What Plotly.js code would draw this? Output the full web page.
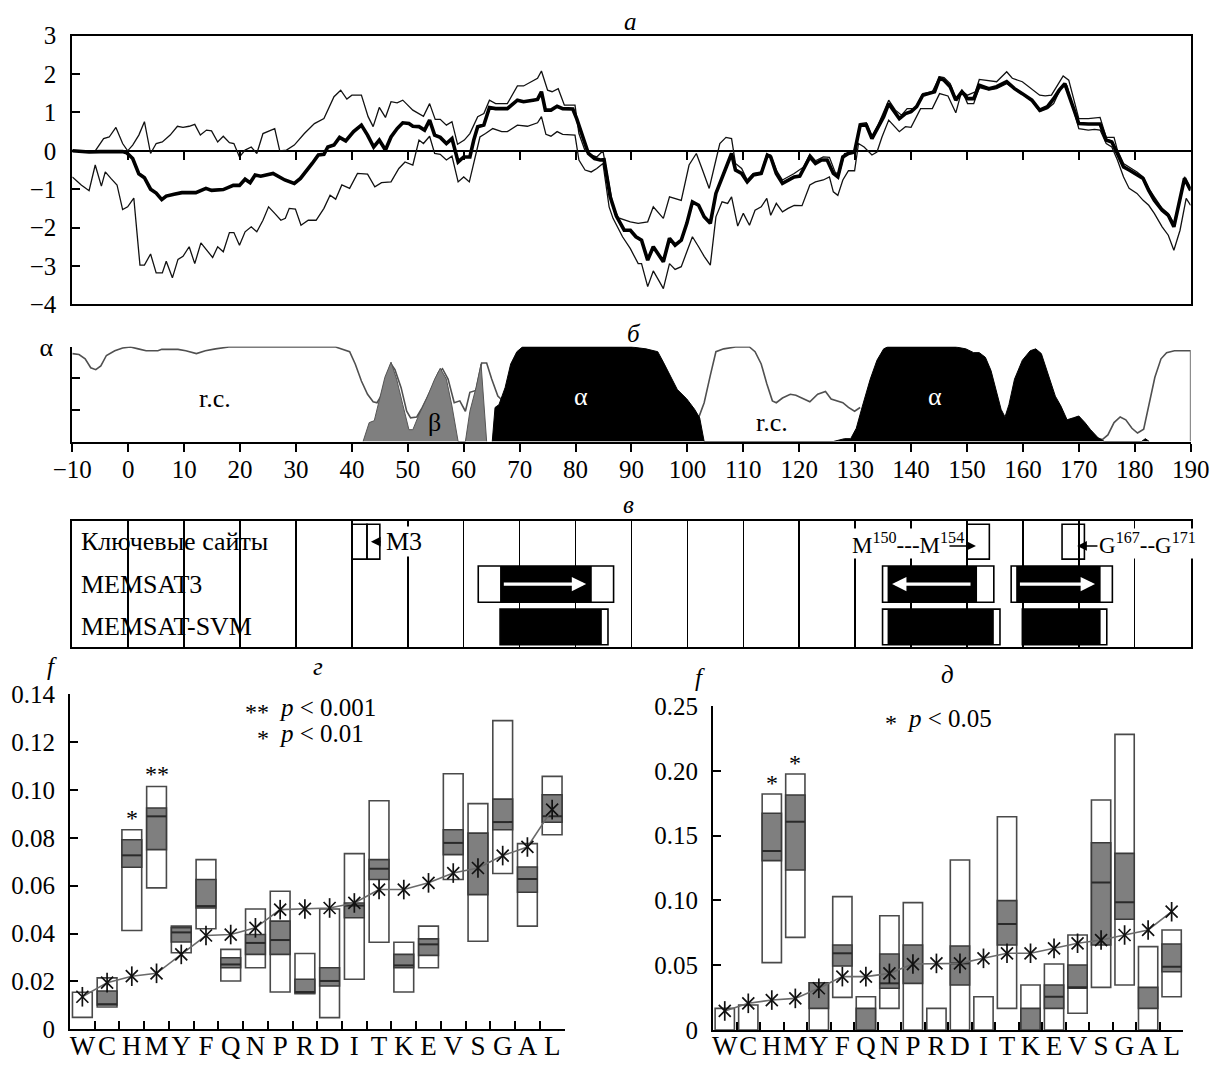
<!DOCTYPE html>
<html><head><meta charset="utf-8">
<script src="https://cdn.plot.ly/plotly-3.0.1.min.js"></script>
<style>body{margin:0;background:#fff}#chart{width:1211px;height:1066px}</style>
</head><body><div id="chart"></div>
<script>
// ---------- panel а : profiles (residue, value) ----------
const meanProfile = [[-10,0],[-7,-0.03],[-5,-0.02],[-3,-0.02],[-1,-0.02],[-0.3,-0.05],[0.8,-0.2],[1.9,-0.6],[2.9,-0.7],[4,-1.0],
[5,-1.1],[6,-1.27],[6.8,-1.18],[8.2,-1.13],[9.6,-1.09],[12.1,-1.09],[13.9,-0.98],[14.9,-1.03],[17,-1.01],[18.8,-0.9],
[19.9,-0.9],[20.9,-0.74],[21.8,-0.83],[22.7,-0.63],[23.7,-0.66],[25.9,-0.59],[28,-0.76],[29.7,-0.85],[30.8,-0.72],[32.9,-0.33],
[34,-0.11],[35,-0.09],[35.7,0.1],[36.8,0.15],[37.8,0.35],[38.9,0.26],[40.3,0.5],[41.7,0.67],[42.8,0.41],[43.9,0.1],
[44.9,0.28],[46,0.02],[47,0.36],[48.1,0.58],[49.1,0.73],[50.2,0.71],[50.9,0.64],[52,0.63],[53,0.54],[53.9,0.8],
[54.8,0.41],[55.8,0.35],[56.9,0.19],[57.9,0.32],[59,-0.29],[60,-0.16],[61.1,-0.16],[61.8,0.28],[62.5,0.63],[63.6,0.67],
[64.6,1.13],[65.7,1.1],[67.8,1.1],[69.6,1.32],[70.7,1.28],[72.4,1.32],[73.2,1.34],[73.9,1.54],[74.6,1.06],[75.6,1.06],
[76.7,1.16],[77.7,1.1],[79.5,1.09],[80.2,0.84],[81.3,0.36],[82.3,-0.07],[83.4,-0.2],[84.4,-0.24],[85.1,-0.23],[86.2,-1.2],
[87.3,-1.7],[88.7,-2.07],[89.8,-2.07],[90.8,-2.24],[91.8,-2.33],[92.9,-2.85],[93.9,-2.5],[95,-2.76],[95.7,-2.89],[96.8,-2.28],
[97.8,-2.46],[98.9,-2.33],[99.9,-1.89],[100.9,-1.33],[102,-1.42],[103,-1.72],[104.1,-1.89],[105.1,-1.11],[106.2,-0.72],[107.2,-0.37],
[107.9,-0.07],[108.6,-0.5],[109.7,-0.59],[110.7,-0.81],[111.8,-0.63],[113.2,-0.59],[114.3,-0.11],[114.9,-0.16],[115.9,-0.59],[117,-0.85],
[118,-0.76],[119.1,-0.68],[120.1,-0.66],[120.8,-0.46],[121.9,-0.16],[122.9,-0.33],[124,-0.24],[125,-0.24],[126.1,-0.59],[126.9,-0.68],
[127.8,-0.16],[128.8,-0.07],[129.9,-0.03],[130.9,0.67],[132,0.67],[133,0.32],[134.1,0.63],[135.1,0.89],[136,1.23],[136.9,1.06],
[137.9,0.84],[139,0.97],[140,1.02],[141,1.15],[142.1,1.45],[143.1,1.49],[144.2,1.54],[145.1,1.89],[145.9,1.84],[147,1.67],
[148,1.32],[149.1,1.54],[150.1,1.36],[151.2,1.36],[152.2,1.71],[153.9,1.62],[155.3,1.67],[157.1,1.8],[158.5,1.62],[159.9,1.49],
[161.6,1.32],[163,1.06],[164.4,1.15],[165.5,1.36],[166.5,1.58],[167.5,1.75],[168.6,1.32],[170,0.71],[171.7,0.7],[173.8,0.7],
[174.9,0.28],[175.9,0.23],[176.9,-0.07],[178,-0.42],[179,-0.5],[180.4,-0.63],[181.5,-0.72],[182.5,-1.03],[183.5,-1.29],[184.9,-1.55],
[186,-1.68],[187,-1.98],[188.1,-1.29],[188.9,-0.72],[190,-1.03]];

const upperProfile = [[-10,0],[-7,-0.02],[-5.9,0],[-4.4,0.32],[-3.4,0.36],[-2.2,0.61],[-1,0.19],[-0.1,0],[0.8,0.15],[1.9,0.41],
[2.9,0.76],[4,-0.07],[5,0.19],[6.1,0.23],[7.5,0.41],[8.8,0.64],[9.8,0.61],[10.9,0.64],[11.9,0.69],[12.9,0.41],
[14,0.54],[14.9,0.52],[16,0.23],[17,0.38],[18.1,0.21],[18.9,0.19],[19.9,-0.16],[20.9,0.02],[22,0.1],[23,-0.07],
[24.1,0.45],[25.5,0.54],[26.2,0.58],[27.1,0],[28.3,0.02],[29.7,0.15],[31.5,0.45],[33.3,0.71],[35,0.84],[36.8,1.41],
[38,1.58],[39.1,1.35],[40,1.45],[41.7,1.45],[42.9,0.89],[43.8,0.63],[44.9,1.13],[46,0.87],[47,1.28],[48.1,1.25],
[49.1,1.32],[50.9,1.06],[52.8,0.9],[53.9,1.23],[54.9,0.82],[55.8,0.82],[56.9,0.67],[57.9,0.76],[58.9,0.17],[60.1,0.28],
[61.1,0.45],[62.5,0.89],[63.6,0.97],[64.6,1.32],[65.7,1.23],[67.8,1.23],[69.6,1.69],[70.7,1.69],[72.4,1.84],[73.2,1.89],
[73.9,2.08],[75,1.58],[75.8,1.54],[76.9,1.62],[78,1.19],[79.9,1.19],[80.6,0.45],[81.7,0],[82.8,-0.11],[83.8,-0.16],
[84.9,0],[86,-0.94],[86.7,-1.45],[87.7,-1.75],[89.8,-1.85],[91.2,-1.89],[92.9,-1.85],[93.9,-1.46],[95.7,-1.76],[96.8,-1.2],
[98.9,-1.29],[100.3,-0.37],[101.6,-0.07],[102.7,-0.5],[103.9,-0.98],[105.1,-0.24],[105.8,0.19],[106.9,0.35],[107.9,0.32],[108.6,-0.33],
[109.7,-0.46],[110.7,-0.76],[111.8,-0.59],[113.2,-0.55],[114.2,-0.09],[114.9,-0.11],[115.9,-0.5],[117,-0.76],[118,-0.68],[119.1,-0.59],
[120.8,-0.42],[121.9,-0.09],[122.9,-0.26],[124.3,-0.16],[125.4,-0.17],[126.4,-0.55],[127.1,-0.63],[128.1,-0.07],[129.2,-0.05],[129.9,0.02],
[130.9,0.71],[132,0.73],[133,0.38],[134.1,0.67],[136,1.32],[137.2,1.06],[138.3,0.93],[139.3,1.1],[140.7,1.1],[142.1,1.49],
[143.8,1.54],[145.1,1.93],[145.9,1.91],[147,1.75],[148,1.36],[149.1,1.56],[150.1,1.45],[151.5,1.54],[152.2,1.86],[153.6,1.84],
[155.3,1.8],[157.1,2.06],[158.1,1.89],[159.9,1.8],[161.6,1.62],[163,1.45],[164,1.43],[165.1,1.45],[166.2,1.71],[167.2,1.95],
[168.2,1.84],[170,0.84],[171.7,0.84],[173.8,0.87],[174.9,0.35],[176.3,0.35],[176.9,0.02],[178,-0.33],[179.4,-0.46],[180.4,-0.55],
[181.5,-0.68],[182.5,-0.98],[183.5,-1.2],[184.9,-1.5],[186,-1.63],[187,-1.89],[188.1,-1.24],[188.9,-0.68],[190,-0.98]];

const lowerProfile = [[-10,-0.68],[-8.4,-0.89],[-7,-1.04],[-5.9,-0.37],[-4.8,-0.92],[-4.1,-0.55],[-3.1,-0.72],[-2,-0.89],[-1,-1.53],[-0.1,-1.46],
[1,-1.23],[2.1,-2.98],[2.9,-2.98],[4,-2.69],[5,-3.18],[6.1,-3.18],[6.8,-2.88],[7.9,-3.31],[8.9,-2.83],[9.8,-2.75],
[10.9,-2.5],[11.9,-2.94],[13,-2.4],[14,-2.59],[15.1,-2.78],[16,-2.5],[17,-2.63],[18.1,-2.13],[18.9,-2.13],[19.9,-2.46],
[20.9,-2.11],[22,-1.98],[23,-2.11],[24.1,-1.81],[25.1,-1.46],[26.2,-1.63],[27.3,-1.81],[28.1,-1.76],[28.8,-1.5],[29.9,-1.52],
[30.9,-1.94],[32.2,-1.81],[33.6,-1.81],[35,-1.5],[36.1,-1.16],[37.1,-1.26],[38.2,-0.89],[39.6,-0.98],[41,-0.59],[42.8,-0.61],
[44.1,-0.94],[45.3,-0.83],[47,-0.81],[48.4,-0.46],[49.5,-0.29],[50.9,-0.37],[52,0.28],[52.8,0.19],[53.9,0.38],[54.8,-0.07],
[55.8,-0.09],[56.9,-0.24],[57.9,-0.14],[59,-0.81],[60,-0.68],[61,-0.81],[61.8,-0.33],[62.9,0.36],[63.9,0.45],[65.2,0.58],
[66.8,0.5],[67.8,0.5],[69.6,0.67],[71.4,0.64],[73.2,0.73],[73.9,0.89],[74.7,0.43],[75.6,0.38],[76.7,0.5],[77.7,0.43],
[79.9,0.41],[80.6,-0.24],[81.7,-0.5],[82.8,-0.55],[83.8,-0.46],[84.9,-0.33],[86,-1.46],[86.7,-1.76],[88.4,-2.24],[89.8,-2.55],
[91.2,-2.94],[91.8,-2.94],[92.9,-3.54],[93.9,-3.13],[95,-3.41],[95.7,-3.59],[96.8,-2.94],[97.8,-3.09],[98.9,-3.02],[99.9,-2.63],
[100.9,-2.24],[102,-2.5],[103,-2.75],[104.1,-2.98],[105.1,-1.72],[106.2,-1.33],[107.2,-1.37],[107.9,-1.2],[109,-1.96],[110,-1.63],
[111.1,-1.94],[112.1,-1.55],[113.2,-1.46],[114.2,-1.24],[114.9,-1.68],[115.9,-1.37],[117,-1.59],[118,-1.5],[119.1,-1.42],[120.5,-1.43],
[121.9,-0.89],[122.9,-0.81],[124.3,-0.76],[125.4,-0.68],[126.1,-1.07],[126.9,-1.16],[127.8,-0.76],[128.8,-0.52],[129.9,-0.52],[130.6,0.19],
[131.6,0.1],[133,-0.11],[133.9,-0.03],[134.8,0.36],[136,0.8],[137.9,0.5],[139,0.63],[140,0.61],[141.7,1.1],[143.8,1.1],
[145.1,1.49],[146.6,1.43],[148,0.99],[149.1,1.58],[150.1,1.23],[151.2,1.23],[152.2,1.65],[153.9,1.58],[155.3,1.62],[157.1,1.75],
[158.1,1.65],[159.9,1.45],[161.6,1.3],[163,1.02],[164.4,1.1],[165.5,1.23],[166.9,1.67],[167.9,1.69],[168.9,1.15],[170,0.58],
[171.7,0.54],[172.8,0.56],[173.8,0.54],[174.9,0.19],[175.9,0.1],[176.9,-0.24],[178,-0.68],[179,-0.98],[180.4,-1.11],[181.5,-1.29],
[182.5,-1.42],[183.5,-1.63],[184.9,-1.98],[186,-2.2],[187,-2.59],[188.1,-2.07],[189.2,-1.24],[190,-1.42]];

// ---------- panel б : secondary structure (residue, probability) ----------
const coilProfile = [[-10,0.93],[-8.8,0.92],[-7.7,0.875],[-6.7,0.78],[-5.8,0.76],[-4.9,0.8],[-3.9,0.91],[-2.4,0.96],[-1,0.99],[0.4,1],
[1.8,0.98],[3.2,0.96],[5.3,0.96],[6,0.975],[8.9,0.975],[10.3,0.96],[12.2,0.93],[13.8,0.96],[15.6,0.98],[18,1],[37.1,1],
[38.5,0.975],[39.6,0.95],[40.6,0.82],[41.7,0.64],[42.8,0.5],[43.8,0.42],[44.5,0.41],[45.2,0.48],[46.3,0.71],[47,0.82],
[47.7,0.76],[48.8,0.57],[49.8,0.32],[50.5,0.25],[51.6,0.26],[52.6,0.36],[54.1,0.54],[55.5,0.73],[56.2,0.77],[57.2,0.66],
[58.3,0.41],[59.3,0.43],[60.3,0.32],[61.1,0.52],[62.2,0.54],[63.2,0.83],[64.1,0.83],[65,0.66],[66.1,0.48],[67,0.43],null,
[102,0.25],[103,0.41],[104.1,0.7],[105.1,0.95],[106.5,0.98],[108.6,1],[111.1,1],[112.1,0.95],[113.2,0.82],[114.2,0.61],
[115.2,0.43],[115.9,0.41],[117,0.46],[118.4,0.5],[119.4,0.49],[120.8,0.45],[121.9,0.42],[123.3,0.5],[124.7,0.53],[125.7,0.45],
[126.8,0.43],[127.8,0.41],[128.8,0.36],[129.9,0.32],[130.9,0.36],null,
[173.1,0.04],[174.2,0.02],[175.2,0.07],[176.3,0.2],[177.4,0.26],[178.4,0.23],[179.5,0.14],[180.5,0.09],[181.6,0.13],[182.6,0.39],
[183.6,0.68],[184.7,0.875],[185.7,0.94],[187.1,0.96],[188.9,0.96],[190,0.96],[190,0]];

const betaProfile = [[42,0],[43.1,0.2],[44,0.22],[44.9,0.43],[45.9,0.68],[47,0.84],[48,0.66],[49.1,0.39],[50.2,0.125],[50.9,0.125],
[51.9,0.27],[53.4,0.46],[54.8,0.66],[55.8,0.775],[56.9,0.66],[57.9,0.375],[59,0],[60.3,0],[61.1,0.32],[62.2,0.57],[63.1,0.82],[64.1,0]];

const alphaProfile = [[65.1,0],[65.6,0.36],[66.3,0.39],[67.4,0.57],[68.4,0.82],[69.5,0.95],[70.5,1],[90,1],[92.6,0.98],[94.7,0.95],
[95.7,0.84],[96.8,0.71],[98.2,0.55],[99.9,0.45],[101.3,0.34],[102.2,0.25],[103,0],[126.1,0],[128.1,0.03],[129.2,0.03],
[130.2,0.14],[131.3,0.375],[132.7,0.66],[133.9,0.86],[135.1,0.98],[135.8,1],[148,1],[149.8,0.98],[151.2,0.94],[152.2,0.94],
[153.3,0.89],[154.3,0.75],[155.4,0.48],[156.1,0.34],[156.8,0.26],[157.5,0.39],[158.5,0.66],[159.9,0.86],[161.3,0.96],[162.3,0.98],
[163.3,0.93],[164.4,0.73],[165.8,0.48],[166.8,0.375],[167.9,0.23],[169,0.25],[170,0.27],[171.1,0.2],[172.1,0.125],[173.5,0.036],
[174.6,0],[181.2,0],[181.9,0.03],[182.6,0]];

const ssLabels = [['r.c.',15.6,0.46,'black'],['β',54.8,0.2,'black'],['α',80.9,0.48,'white'],['r.c.',115.2,0.2,'black'],['α',144.2,0.48,'white']];

// ---------- panel в : predicted segments ----------
const rowNames = ['Ключевые сайты','MEMSAT3','MEMSAT-SVM'];
const keySiteStart = [40, 42.7, 150, 167];
const keySiteEnd   = [42.7, 45, 154, 171];
const memsat3Start = [62.6, 134.9, 157.9];
const memsat3End   = [86.8, 154.8, 176];
const memsat3CoreStart = [66.5, 135.8, 158.8];
const memsat3CoreEnd   = [82.9, 151.8, 173.9];
const memsat3Dir = [1, -1, 1];
const svmStart = [66.5, 134.9, 159.9];
const svmEnd   = [85.8, 155.9, 175];
const svmCoreStart = [66.5, 135.8, 159.9];
const svmCoreEnd   = [84.7, 154.8, 173.9];

// ---------- panels г, д : amino-acid frequencies ----------
const aminoAcids = ['W','C','H','M','Y','F','Q','N','P','R','D','I','T','K','E','V','S','G','A','L'];
const gWhiteLo = [0.005,0.0093,0.0413,0.0591,0.032,0.042,0.0202,0.0257,0.0156,0.0149,0.0049,0.0209,0.0364,0.0156,0.0257,0.0626,0.0368,0.0651,0.0431,0.0813];
const gWhiteHi = [0.0155,0.0215,0.0834,0.1015,0.0431,0.0709,0.0334,0.0503,0.0577,0.0317,0.0503,0.0734,0.0955,0.0364,0.0431,0.1068,0.0943,0.129,0.0776,0.1057];
const gGrayLo  = [null,0.0102,0.0677,0.0751,0.0365,0.0507,0.0257,0.0313,0.0313,0.0153,0.0181,0.0466,0.0626,0.0257,0.0309,0.073,0.0563,0.0834,0.0573,0.0865];
const gGrayHi  = [null,0.016,0.0792,0.0925,0.0425,0.0626,0.0299,0.0396,0.0452,0.0209,0.0257,0.0528,0.0709,0.0313,0.0378,0.0834,0.082,0.0962,0.0678,0.098];
const gMedian  = [null,0.0105,0.0727,0.089,0.0405,0.0515,0.0271,0.0361,0.0373,0.0156,0.0202,0.0517,0.0671,0.0267,0.0355,0.0779,null,0.0866,0.0628,0.089];
const gReference = [0.0136,0.0195,0.0222,0.0234,0.0313,0.0392,0.0396,0.0424,0.05,0.0503,0.0507,0.0528,0.0584,0.0584,0.0612,0.0653,0.0674,0.0726,0.0762,0.0918];
const gSignif = ['','','*','**','','','','','','','','','','','','','','','',''];

const dWhiteLo = [0,0,0.052,0.0715,0,0.0252,0,0.0167,0,0,0,0,0.0167,0,0,0.0129,0.0329,0.0347,0,0.0257];
const dWhiteHi = [0.0167,0.0193,0.1821,0.1975,0.0365,0.1029,0.0257,0.0882,0.0983,0.0167,0.1312,0.0257,0.1646,0.0347,0.0509,0.0733,0.1775,0.2281,0.0643,0.0772];
const dGrayLo  = [null,null,0.1307,0.1235,0.0167,0.0494,0,0.0322,0.036,null,0.0347,null,0.0656,0,0.0167,0.0322,0.0656,0.0854,0.0167,0.045];
const dGrayHi  = [null,null,0.1672,0.1813,0.0365,0.0656,0.0167,0.0586,0.0656,null,0.0648,null,0.0998,0.0167,0.0347,0.0502,0.1445,0.1363,0.0329,0.0664];
const dMedian  = [null,null,0.1381,0.1607,null,0.0592,null,0.036,null,null,0.0514,null,0.0818,null,0.0257,0.0329,0.1139,0.0985,null,0.0489];
const dReference = [0.0147,0.0206,0.0231,0.0244,0.0322,0.0412,0.0412,0.0437,0.0509,0.0514,0.0514,0.0553,0.0592,0.0592,0.063,0.0669,0.0694,0.0733,0.0772,0.0913];
const dSignif = ['','','*','*','','','','','','','','','','','','','','','',''];

const gTicks = [0,0.02,0.04,0.06,0.08,0.10,0.12,0.14];
const gTickText = ['0','0.02','0.04','0.06','0.08','0.10','0.12','0.14'];
const dTicks = [0,0.05,0.10,0.15,0.20,0.25];
const dTickText = ['0','0.05','0.10','0.15','0.20','0.25'];

// ---------- build ----------
const FONT = 'Liberation Serif';
const tf = s => ({family:FONT,size:s,color:'#000000'});
const xs = a => a.map(p => p === null ? null : p[0]);
const ys = a => a.map(p => p === null ? null : p[1]);
const idx = aminoAcids.map((_, i) => i);
const traces = [];
const annotations = [];

// а
traces.push({type:'scatter',mode:'lines',x:xs(upperProfile),y:ys(upperProfile),xaxis:'x',yaxis:'y',line:{color:'#111',width:1.3}});
traces.push({type:'scatter',mode:'lines',x:xs(lowerProfile),y:ys(lowerProfile),xaxis:'x',yaxis:'y',line:{color:'#111',width:1.3}});
traces.push({type:'scatter',mode:'lines',x:xs(meanProfile),y:ys(meanProfile),xaxis:'x7',yaxis:'y',line:{color:'#000',width:3.6}});

// б
traces.push({type:'scatter',mode:'lines',x:xs(coilProfile),y:ys(coilProfile),xaxis:'x2',yaxis:'y2',line:{color:'#505050',width:1.6},connectgaps:false});
traces.push({type:'scatter',mode:'lines',x:xs(betaProfile),y:ys(betaProfile),xaxis:'x2',yaxis:'y2',fill:'tozeroy',fillcolor:'#7f7f7f',line:{color:'#555',width:1}});
traces.push({type:'scatter',mode:'lines',x:xs(alphaProfile),y:ys(alphaProfile),xaxis:'x2',yaxis:'y2',fill:'tozeroy',fillcolor:'#000',line:{color:'#000',width:1}});
ssLabels.forEach(l => annotations.push({xref:'x2',yref:'y2',x:l[1],y:l[2],xanchor:'center',yanchor:'middle',text:l[0],showarrow:false,font:{size:26,color:l[3],family:FONT}}));

// в
const rowY = [2.5, 1.49, 0.47];
const hbar = (s, e, y, color, line, w) => ({type:'bar',orientation:'h',xaxis:'x3',yaxis:'y3',
  y:s.map(() => y), x:s.map((v,i) => e[i]-v), base:s, width:w,
  marker:{color:color,line:line}});
traces.push(hbar(keySiteStart, keySiteEnd, rowY[0], 'rgba(0,0,0,0)', {color:'#000',width:1.6}, 0.83));
traces.push(hbar(memsat3Start, memsat3End, rowY[1], '#fff', {color:'#000',width:1.6}, 0.86));
traces.push(hbar(memsat3CoreStart, memsat3CoreEnd, rowY[1], '#000', {color:'#000',width:0}, 0.86));
traces.push(hbar(svmStart, svmEnd, rowY[2], '#fff', {color:'#000',width:1.6}, 0.85));
traces.push(hbar(svmCoreStart, svmCoreEnd, rowY[2], '#000', {color:'#000',width:0}, 0.85));
rowNames.forEach((n, i) => annotations.push({xref:'x3',yref:'y3',x:-8.8,y:rowY[i],xanchor:'left',yanchor:'middle',text:n,showarrow:false,font:tf(26)}));
memsat3Dir.forEach((d, i) => {
  const s = memsat3CoreStart[i], e = memsat3CoreEnd[i];
  const tail = d > 0 ? s + 0.4 : e - 0.9, tip = d > 0 ? e - 1.0 : s + 0.8;
  annotations.push({xref:'x3',yref:'y3',x:tip,y:rowY[1],axref:'x3',ayref:'y3',ax:tail,ay:rowY[1],text:'',showarrow:true,
    arrowcolor:'#fff',arrowwidth:3.2,arrowhead:2,arrowsize:0.9,standoff:0,startstandoff:0});
});
annotations.push({xref:'x3',yref:'y3',x:46,y:2.5,xanchor:'left',yanchor:'middle',text:'M3',showarrow:false,bgcolor:'#fff',borderpad:0,font:tf(26)});
annotations.push({xref:'x3',yref:'y3',x:43.4,y:2.5,axref:'x3',ayref:'y3',ax:45.4,ay:2.5,text:'',showarrow:true,arrowcolor:'#000',arrowwidth:1.5,arrowhead:2,arrowsize:1.3,standoff:0,startstandoff:0});
annotations.push({xref:'x3',yref:'y3',x:149.6,y:2.45,xanchor:'right',yanchor:'middle',text:'M<sup>150</sup>---M<sup>154</sup>',showarrow:false,bgcolor:'#fff',borderpad:0,font:tf(23)});
annotations.push({xref:'x3',yref:'y3',x:151.6,y:2.4,axref:'x3',ayref:'y3',ax:146.6,ay:2.4,text:'',showarrow:true,arrowcolor:'#000',arrowwidth:1.5,arrowhead:2,arrowsize:1.3,standoff:0,startstandoff:0});
annotations.push({xref:'x3',yref:'y3',x:173.4,y:2.45,xanchor:'left',yanchor:'middle',text:'G<sup>167</sup>--G<sup>171</sup>',showarrow:false,bgcolor:'#fff',borderpad:0,font:tf(23)});
annotations.push({xref:'x3',yref:'y3',x:169.7,y:2.4,axref:'x3',ayref:'y3',ax:173.6,ay:2.4,text:'',showarrow:true,arrowcolor:'#000',arrowwidth:1.5,arrowhead:2,arrowsize:1.3,standoff:0,startstandoff:0});

// г, д
function boxPanel(xa, ya, lo, hi, glo, ghi, med, ref, sig, w, sigShift) {
  traces.push({type:'bar',x:idx,y:lo.map((v,i)=>hi[i]-v),base:lo,width:w,xaxis:xa,yaxis:ya,
    marker:{color:'#fff',line:{color:'#4a4a4a',width:1.6}}});
  traces.push({type:'bar',x:idx,y:glo.map((v,i)=>v===null?null:ghi[i]-v),base:glo,width:w,xaxis:xa,yaxis:ya,
    marker:{color:'#7f7f7f',line:{color:'#3a3a3a',width:1.6}}});
  const mx = [], my = [];
  med.forEach((m, i) => { if (m !== null) { mx.push(i-w/2, i+w/2, null); my.push(m, m, null); } });
  traces.push({type:'scatter',mode:'lines',x:mx,y:my,xaxis:xa,yaxis:ya,line:{color:'#2a2a2a',width:2}});
  traces.push({type:'scatter',mode:'lines',x:idx,y:ref,xaxis:xa,yaxis:ya,line:{color:'#6a6a6a',width:1.6}});
  traces.push({type:'scatter',mode:'markers',x:idx,y:ref,xaxis:xa,yaxis:ya,marker:{symbol:'x-thin-open',size:12,color:'#111',line:{color:'#111',width:1.7}}});
  traces.push({type:'scatter',mode:'markers',x:idx,y:ref,xaxis:xa,yaxis:ya,marker:{symbol:'line-ns-open',size:14,color:'#111',line:{color:'#111',width:1.7}}});
  sig.forEach((s, i) => { if (s) annotations.push({xref:xa,yref:ya,x:i,y:hi[i],xanchor:'center',yanchor:'middle',yshift:sigShift,text:s,showarrow:false,font:tf(24)}); });
}
boxPanel('x4','y4',gWhiteLo,gWhiteHi,gGrayLo,gGrayHi,gMedian,gReference,gSignif,0.8,12);
boxPanel('x5','y5',dWhiteLo,dWhiteHi,dGrayLo,dGrayHi,dMedian,dReference,dSignif,0.82,11);

// titles & labels in paper coordinates
const paperText = [
  ['а',0.521,0.9794],['б',0.5235,0.6876],['в',0.5194,0.5263],
  ['г',0.2623,0.3743],['д',0.782,0.3677],
  ['f',0.0427,0.3752],['f',0.5784,0.3649]
];
paperText.forEach(t => annotations.push({xref:'paper',yref:'paper',x:t[1],y:t[2],xanchor:'center',yanchor:'middle',text:'<i>'+t[0]+'</i>',showarrow:false,font:tf(25)}));
// significance legends: [stars, text, x of text start (px), y centre (px)]
const sigLegend = [['**','<i>p</i> &lt; 0.001',277,707],['*','<i>p</i> &lt; 0.01',277,733],['*','<i>p</i> &lt; 0.05',905,718]];
sigLegend.forEach(s => {
  annotations.push({xref:'paper',yref:'paper',x:(s[2]-6)/1211,y:1-s[3]/1066,xanchor:'right',yanchor:'middle',yshift:-5,text:s[0],showarrow:false,font:tf(24)});
  annotations.push({xref:'paper',yref:'paper',x:s[2]/1211,y:1-s[3]/1066,xanchor:'left',yanchor:'middle',text:s[1],showarrow:false,font:tf(25)});
});

const XD = [0.0597, 0.9832];
const ticks10 = []; for (let v = 0; v <= 180; v += 10) ticks10.push(v);
const ticksAll = []; for (let v = -10; v <= 190; v += 10) ticksAll.push(v);
const bounds = []; for (let v = 0.5; v < 19.5; v += 1) bounds.push(v);
const lineAx = {showline:true,linecolor:'#000',linewidth:2,showgrid:false,zeroline:false};

const layout = {
  width:1211, height:1066, margin:{l:0,r:0,t:0,b:0}, paper_bgcolor:'#fff', plot_bgcolor:'rgba(0,0,0,0)',
  showlegend:false, barmode:'overlay', hovermode:false,
  font:tf(24),
  xaxis:Object.assign({},lineAx,{domain:XD,range:[-10,190],mirror:true,ticks:'',showticklabels:false,anchor:'y'}),
  xaxis7:{overlaying:'x',anchor:'free',position:1-150.7/1066,range:[-10,190],side:'bottom',showline:false,showgrid:false,zeroline:false,
    tickmode:'array',tickvals:ticks10,ticks:'outside',ticklen:8,tickwidth:2,tickcolor:'#000',showticklabels:false},
  yaxis:Object.assign({},lineAx,{domain:[1-304.3/1066,1-35.7/1066],range:[-4,3],mirror:true,anchor:'x',
    tickmode:'linear',tick0:-4,dtick:1,ticks:'inside',ticklen:8,tickwidth:2,tickcolor:'#000',ticklabelstandoff:9,
    zeroline:true,zerolinecolor:'#000',zerolinewidth:2,tickfont:tf(25)}),
  xaxis2:Object.assign({},lineAx,{domain:XD,range:[-10,190],anchor:'y2',tickmode:'array',tickvals:ticksAll,
    ticks:'outside',ticklen:8,tickwidth:2,tickcolor:'#000',tickfont:tf(25),ticklabelstandoff:-4,tickangle:0}),
  yaxis2:Object.assign({},lineAx,{domain:[1-441.5/1066,1-346.5/1066],range:[0,1.005],anchor:'x2',tickmode:'array',
    tickvals:[1],ticktext:['α'],ticks:'inside',ticklen:8,tickwidth:2,tickcolor:'#000',tickfont:tf(26),ticklabelstandoff:12,
    minor:{tickmode:'array',tickvals:[1/3,2/3],ticks:'inside',ticklen:8,tickwidth:2,tickcolor:'#000',showgrid:false}}),
  xaxis3:Object.assign({},lineAx,{domain:XD,range:[-10,190],anchor:'y3',mirror:true,tickmode:'array',tickvals:ticks10,
    ticks:'',showticklabels:false,showgrid:true,gridcolor:'#000',gridwidth:1.5}),
  yaxis3:Object.assign({},lineAx,{domain:[1-646.7/1066,1-520.7/1066],range:[0,3],anchor:'x3',mirror:true,ticks:'',showticklabels:false}),
  xaxis4:Object.assign({},lineAx,{domain:[70/1211,564.5/1211],range:[-0.5,19.5],anchor:'y4',tickmode:'array',tickvals:idx,ticktext:aminoAcids,
    ticks:'',ticklen:0,tickfont:tf(27),ticklabelstandoff:-9,tickangle:0,
    minor:{tickmode:'array',tickvals:bounds,ticks:'inside',ticklen:8,tickwidth:2,tickcolor:'#000',showgrid:false}}),
  yaxis4:Object.assign({},lineAx,{domain:[1-1029.3/1066,1-694.3/1066],range:[0,0.14],anchor:'x4',tickmode:'array',tickvals:gTicks,ticktext:gTickText,
    ticks:'inside',ticklen:8,tickwidth:2,tickcolor:'#000',tickfont:tf(25),ticklabelstandoff:8}),
  xaxis5:Object.assign({},lineAx,{domain:[713/1211,1183.4/1211],range:[-0.5,19.5],anchor:'y5',tickmode:'array',tickvals:idx,ticktext:aminoAcids,
    ticks:'',ticklen:0,tickfont:tf(27),ticklabelstandoff:-9,tickangle:0,
    minor:{tickmode:'array',tickvals:bounds,ticks:'inside',ticklen:8,tickwidth:2,tickcolor:'#000',showgrid:false}}),
  yaxis5:Object.assign({},lineAx,{domain:[1-1030/1066,1-706/1066],range:[0,0.25],anchor:'x5',tickmode:'array',tickvals:dTicks,ticktext:dTickText,
    ticks:'inside',ticklen:8,tickwidth:2,tickcolor:'#000',tickfont:tf(25),ticklabelstandoff:8}),
  annotations:annotations
};

Plotly.newPlot('chart', traces, layout, {staticPlot:true, displayModeBar:false});
</script></body></html>
